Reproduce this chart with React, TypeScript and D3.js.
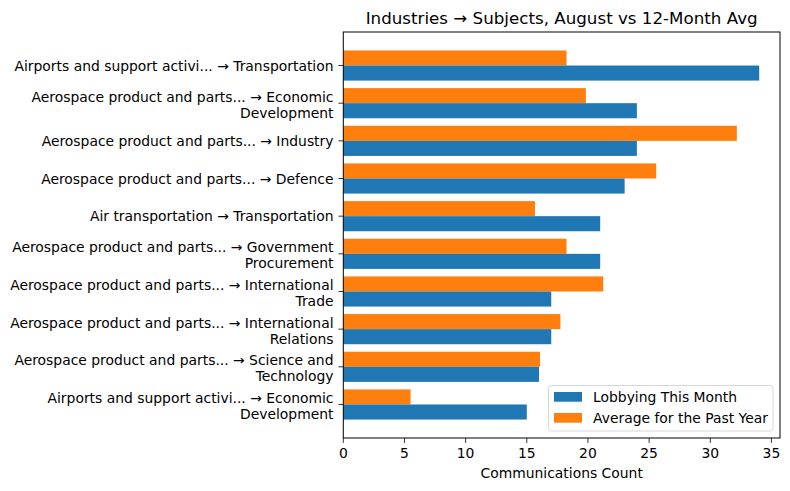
import React, { useEffect, useRef } from "react";
import * as d3 from "d3";

// category labels (two-line labels split with \n)
const categories: string[] = [
  "Airports and support activi... → Transportation",
  "Aerospace product and parts... → Economic\nDevelopment",
  "Aerospace product and parts... → Industry",
  "Aerospace product and parts... → Defence",
  "Air transportation → Transportation",
  "Aerospace product and parts... → Government\nProcurement",
  "Aerospace product and parts... → International\nTrade",
  "Aerospace product and parts... → International\nRelations",
  "Aerospace product and parts... → Science and\nTechnology",
  "Airports and support activi... → Economic\nDevelopment",
];

const thisMonth: number[] = [34, 24, 24, 23, 21, 21, 17, 17, 16, 15];
const pastYearAvg: number[] = [18.25, 19.83, 32.17, 25.58, 15.67, 18.25, 21.25, 17.75, 16.08, 5.5];

const xTicks: number[] = [0, 5, 10, 15, 20, 25, 30, 35];
const seriesNames: string[] = ["Lobbying This Month", "Average for the Past Year"];
const colors: string[] = ["#1f77b4", "#ff7f0e"];

const App: React.FC = () => {
  const chartRef = useRef<SVGSVGElement | null>(null);

  useEffect(() => {
    document.body.style.margin = "0";
    const svg = d3.select(chartRef.current);
    svg.selectAll("*").remove();

    const width = 790;
    const height = 491;
    const left = 343.3, right = 780, top = 32, bottom = 438;
    const font = "DejaVu Sans, sans-serif";

    svg.attr("width", width).attr("height", height);

    const xMax = d3.max(thisMonth.concat(pastYearAvg)) as number;
    const x = d3.scaleLinear().domain([0, xMax * 1.05]).range([left, right]);
    const n = categories.length;
    const pad = (n - 0.2) * 0.05;
    const y = d3.scaleLinear().domain([-0.4 - pad, n - 0.6 + pad]).range([top, bottom]);
    const bh = 0.4;

    // orange on top, blue below
    const g = svg.append("g");
    g.selectAll("rect.avg")
      .data(pastYearAvg)
      .enter()
      .append("rect")
      .attr("x", x(0))
      .attr("y", (_d, i) => y(i - bh))
      .attr("width", (d) => x(d) - x(0))
      .attr("height", y(bh) - y(0))
      .attr("fill", colors[1]);

    g.selectAll("rect.month")
      .data(thisMonth)
      .enter()
      .append("rect")
      .attr("x", x(0))
      .attr("y", (_d, i) => y(i))
      .attr("width", (d) => x(d) - x(0))
      .attr("height", y(bh) - y(0))
      .attr("fill", colors[0]);

    // frame
    svg.append("rect")
      .attr("x", left)
      .attr("y", top)
      .attr("width", right - left)
      .attr("height", bottom - top)
      .attr("fill", "none")
      .attr("stroke", "#000")
      .attr("stroke-width", 1);

    // x axis
    const xAxis = svg.append("g");
    xTicks.forEach((t) => {
      xAxis.append("line")
        .attr("x1", x(t)).attr("x2", x(t))
        .attr("y1", bottom).attr("y2", bottom + 4.9)
        .attr("stroke", "#000").attr("stroke-width", 0.8);
      xAxis.append("text")
        .attr("x", x(t))
        .attr("y", bottom + 19.5)
        .attr("text-anchor", "middle")
        .style("font-family", font)
        .style("font-size", "13.9px")
        .text(t);
    });

    svg.append("text")
      .attr("x", (left + right) / 2)
      .attr("y", 478)
      .attr("text-anchor", "middle")
      .style("font-family", font)
      .style("font-size", "13.9px")
      .text("Communications Count");

    // y axis
    const yAxis = svg.append("g");
    categories.forEach((c, i) => {
      const cy = y(i);
      yAxis.append("line")
        .attr("x1", left - 4.9).attr("x2", left)
        .attr("y1", cy).attr("y2", cy)
        .attr("stroke", "#000").attr("stroke-width", 0.8);
      const lines = c.split("\n");
      const lh = 16;
      const shift = lines.length > 1 ? 1.5 : 0;
      const t = yAxis.append("text")
        .attr("text-anchor", "end")
        .style("font-family", font)
        .style("font-size", "13.9px");
      lines.forEach((l, k) => {
        t.append("tspan")
          .attr("x", left - 9.8)
          .attr("y", cy + 5 + shift + (k - (lines.length - 1) / 2) * lh)
          .text(l);
      });
    });

    // title
    svg.append("text")
      .attr("x", (left + right) / 2)
      .attr("y", 24)
      .attr("text-anchor", "middle")
      .style("font-family", font)
      .style("font-size", "16.7px")
      .text("Industries → Subjects, August vs 12-Month Avg");

    // legend
    const lg = svg.append("g");
    lg.append("rect")
      .attr("x", 548.5).attr("y", 385.5)
      .attr("width", 224.5).attr("height", 45.5)
      .attr("rx", 3)
      .attr("fill", "#fff").attr("fill-opacity", 0.8)
      .attr("stroke", "#d6d6d6");
    seriesNames.forEach((s, k) => {
      const ly = 392 + k * 21;
      lg.append("rect")
        .attr("x", 554).attr("y", ly)
        .attr("width", 28).attr("height", 9.7)
        .attr("fill", colors[k]);
      lg.append("text")
        .attr("x", 593)
        .attr("y", ly + 9.5)
        .style("font-family", font)
        .style("font-size", "13.9px")
        .text(s);
    });
  }, []);

  return <svg ref={chartRef} style={{ display: "block" }}></svg>;
};

export default App;
